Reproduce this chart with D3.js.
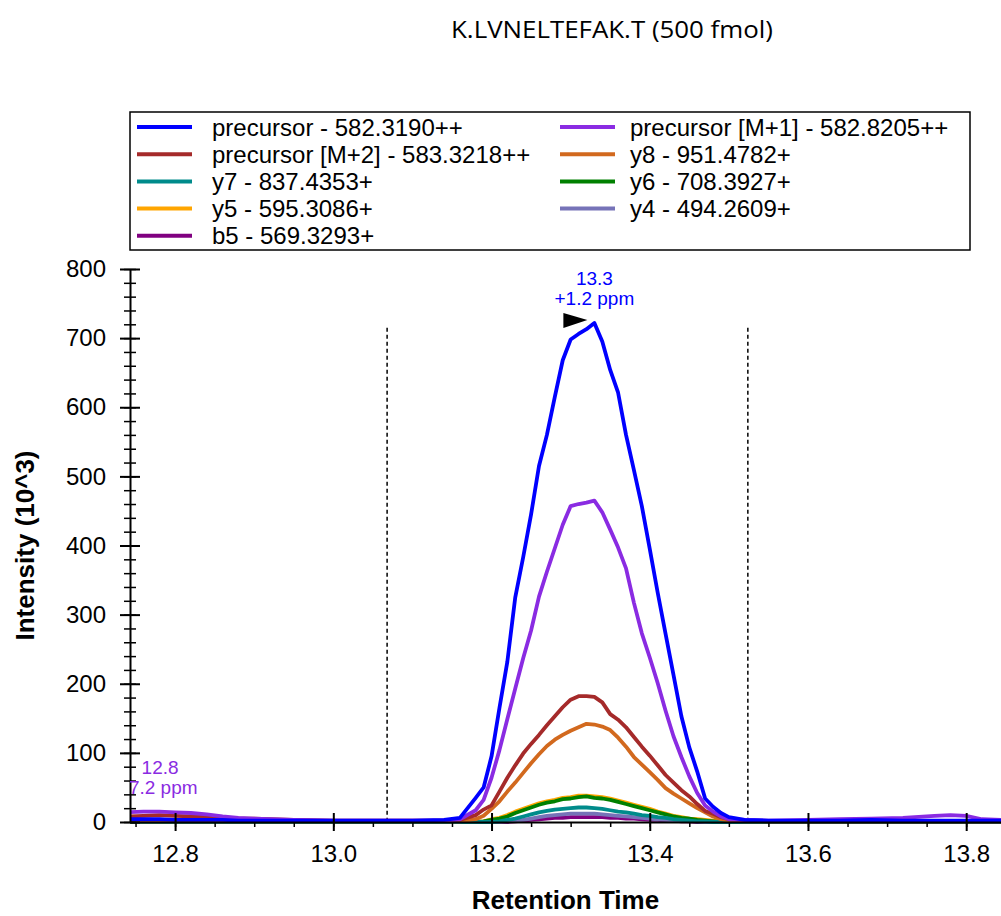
<!DOCTYPE html>
<html>
<head>
<meta charset="utf-8">
<script src="https://cdn.jsdelivr.net/npm/d3@7"></script>
<style>
  body { margin: 0; background: #fff; }
  svg { display: block; font-family: 'Liberation Sans', Arial, sans-serif; }
</style>
</head>
<body>
<svg id="chart" width="1001" height="916"></svg>
<script>
const rt = [12.74, 12.76, 12.78, 12.80, 12.82, 12.84, 12.86, 12.88, 12.90, 12.92, 12.95, 13.00, 13.05, 13.10,
  13.14, 13.16, 13.18,
  13.19, 13.20, 13.21, 13.22, 13.23, 13.24, 13.25, 13.26, 13.27, 13.28, 13.29, 13.30, 13.31, 13.32, 13.33, 13.34,
  13.35, 13.36, 13.37, 13.38, 13.39, 13.40, 13.41, 13.42, 13.43, 13.44, 13.45, 13.46, 13.47, 13.48, 13.49, 13.50,
  13.52, 13.55, 13.60, 13.64, 13.68, 13.72, 13.76, 13.78, 13.80, 13.82, 13.845]

const precursor = [4, 4, 4, 3, 3, 3, 3, 2, 2, 2, 2, 2, 2, 2,
  3, 6, 35,
  50, 95, 165, 232, 325, 383, 445, 515, 560, 615, 668, 698, 706, 713, 722, 695,
  654, 621, 560, 509, 457, 395, 332, 272, 213, 153, 108, 73, 34, 22, 13, 7,
  3, 2, 2, 2, 3, 2, 2, 2, 2, 2, 2]
const precursorM1 = [14, 15, 15, 14, 13, 11, 8, 6, 5, 4, 3, 2, 2, 2,
  2, 4, 17,
  32, 64, 104, 149, 193, 237, 277, 326, 362, 396, 430, 457, 460, 462, 465, 448,
  423, 397, 367, 317, 273, 238, 201, 161, 124, 94, 66, 42, 24, 15, 8, 4,
  3, 2, 3, 4, 5, 6, 9, 10, 9, 4, 3]
const precursorM2 = [8, 9, 10, 9, 8, 7, 6, 5, 5, 4, 3, 2, 2, 2,
  2, 3, 10,
  18, 24, 44, 64, 82, 99, 113, 126, 140, 153, 166, 177, 182, 182, 181, 173,
  156, 148, 137, 123, 109, 96, 82, 68, 57, 46, 37, 26, 16, 12, 7, 4,
  2, 1, 1, 1, 1, 1, 1, 1, 1, 1, 1]
const y8 = [1, 1, 1, 1, 1, 1, 1, 1, 1, 1, 1, 1, 1, 1,
  1, 1, 4,
  9, 19, 30, 44, 57, 71, 85, 98, 110, 119, 126, 132, 137, 142, 141, 138,
  133, 122, 109, 94, 83, 72, 61, 49, 41, 34, 27, 20, 14, 8, 4, 2,
  1, 1, 1, 1, 1, 1, 1, 1, 1, 1, 1]
const y7 = [0, 0, 0, 0, 0, 0, 0, 0, 0, 0, 0, 0, 0, 0,
  0, 0, 0,
  0, 0, 1, 3, 5, 8, 11, 14, 16, 18, 19, 20, 21, 21, 20, 19,
  17, 15, 14, 12, 10, 9, 7, 6, 4, 3, 2, 1, 1, 0, 0, 0,
  0, 0, 0, 0, 0, 0, 0, 0, 0, 0, 0]
const y6 = [0, 0, 0, 0, 0, 0, 0, 0, 0, 0, 0, 0, 0, 0,
  0, 0, 0,
  1, 3, 5, 8, 13, 17, 21, 25, 28, 30, 33, 34, 36, 37, 35, 34,
  32, 29, 26, 23, 20, 17, 14, 11, 8, 6, 5, 3, 2, 1, 0, 0,
  0, 0, 0, 0, 0, 0, 0, 0, 0, 0, 0]
const y5 = [0, 0, 0, 0, 0, 0, 0, 0, 0, 0, 0, 0, 0, 0,
  0, 0, 0,
  1, 4, 6, 10, 15, 19, 23, 27, 30, 32, 35, 36, 38, 38, 37, 36,
  34, 31, 28, 25, 22, 19, 15, 12, 9, 7, 5, 4, 3, 2, 1, 0,
  0, 0, 0, 0, 0, 0, 0, 0, 0, 0, 0]
const y4 = [0, 0, 0, 0, 0, 0, 0, 0, 0, 0, 0, 0, 0, 0,
  0, 0, 0,
  0, 0, 0, 1, 2, 3, 5, 7, 9, 10, 11, 12, 12, 12, 12, 11,
  10, 9, 8, 7, 6, 5, 4, 3, 2, 2, 1, 1, 0, 0, 0, 0,
  0, 0, 0, 0, 0, 0, 0, 0, 0, 0, 0]
const b5 = [0, 0, 0, 0, 0, 0, 0, 0, 0, 0, 0, 0, 0, 0,
  0, 0, 0,
  0, 0, 0, 0, 1, 2, 3, 4, 5, 6, 6, 7, 7, 7, 7, 7,
  6, 6, 5, 5, 4, 3, 3, 2, 2, 1, 1, 0, 0, 0, 0, 0,
  0, 0, 0, 0, 0, 0, 0, 0, 0, 0, 0]

const seriesNames = ['precursor - 582.3190++', 'precursor [M+1] - 582.8205++', 'precursor [M+2] - 583.3218++',
  'y8 - 951.4782+', 'y7 - 837.4353+', 'y6 - 708.3927+', 'y5 - 595.3086+', 'y4 - 494.2609+', 'b5 - 569.3293+']
const seriesColors = ['#0000ff', '#8a2be2', '#a52a2a', '#d2691e', '#008b8b', '#008000', '#ffa500', '#7673b8', '#800080']
const seriesValues = [precursor, precursorM1, precursorM2, y8, y7, y6, y5, y4, b5]

const xTicks = [12.8, 13.0, 13.2, 13.4, 13.6, 13.8]
const yTicks = [0, 100, 200, 300, 400, 500, 600, 700, 800]
const boundaries = [13.068, 13.524]
const peakLabels = [
  { series: 0, rt: 13.33, value: 722, lines: ['13.3', '+1.2 ppm'], arrow: true },
  { series: 1, rt: 12.781, value: 15, lines: ['12.8', '-7.2 ppm'], arrow: false }
]

function drawChart() {
  const svg = d3.select('#chart')
  const left = 130, right = 1001, top = 269, bottom = 822

  const x = d3.scaleLinear().domain([12.743, 13.844]).range([left, right])
  const y = d3.scaleLinear().domain([0, 800]).range([bottom, top])

  svg.append('text')
    .attr('x', 612)
    .attr('y', 38)
    .attr('text-anchor', 'middle')
    .style('font-family', "'Open Sans', sans-serif")
    .style('font-size', '24px')
    .attr('textLength', 322)
    .attr('lengthAdjust', 'spacingAndGlyphs')
    .text('K.LVNELTEFAK.T (500 fmol)')

  svg.append('defs')
    .append('clipPath')
    .attr('id', 'plot-clip')
    .append('rect')
    .attr('x', left)
    .attr('y', 0)
    .attr('width', right - left)
    .attr('height', bottom + 4)

  // boundaries of the integrated peak
  svg.selectAll('.bound')
    .data(boundaries)
    .join('line')
    .attr('class', 'bound')
    .attr('x1', d => x(d))
    .attr('x2', d => x(d))
    .attr('y1', y(715))
    .attr('y2', bottom)
    .attr('stroke', 'black')
    .attr('stroke-width', 1.5)
    .attr('stroke-dasharray', '4,3')

  const line = d3.line()
    .x((d, i) => x(rt[i]))
    .y(d => y(d))

  const order = d3.range(seriesValues.length).reverse()
  svg.append('g')
    .attr('clip-path', 'url(#plot-clip)')
    .selectAll('path')
    .data(order)
    .join('path')
    .attr('d', i => line(seriesValues[i]))
    .attr('fill', 'none')
    .attr('stroke', i => seriesColors[i])
    .attr('stroke-width', 3.8)
    .attr('stroke-linejoin', 'round')

  // axes
  const xMinor = d3.range(12.75, 13.85, 0.05)
  svg.append('g')
    .attr('transform', `translate(0,${bottom})`)
    .call(d3.axisBottom(x).tickValues(xMinor).tickSize(5).tickSizeOuter(0).tickFormat(''))
    .call(g => g.select('.domain').remove())
    .call(g => g.selectAll('line').attr('stroke-width', 1.5))

  svg.append('g')
    .attr('transform', `translate(0,${bottom})`)
    .call(d3.axisBottom(x).tickValues(xTicks).tickSize(9).tickSizeOuter(0).tickPadding(14).tickFormat(d3.format('.1f')))
    .call(g => g.select('.domain').attr('stroke-width', 2))
    .call(g => g.selectAll('.tick line').attr('y1', -9).attr('stroke-width', 2))
    .call(g => g.selectAll('text').style('font-size', '24px').attr('fill', 'black')
      .style('font-family', "'Liberation Sans', Arial, sans-serif"))

  const yMinor = d3.range(0, 801, 20)
  svg.append('g')
    .attr('transform', `translate(${left},0)`)
    .call(d3.axisLeft(y).tickValues(yMinor).tickSize(6).tickSizeOuter(0).tickFormat(''))
    .call(g => g.select('.domain').remove())
    .call(g => g.selectAll('line').attr('x2', 6).attr('x1', -6).attr('stroke-width', 1.5))

  svg.append('g')
    .attr('transform', `translate(${left},0)`)
    .call(d3.axisLeft(y).tickValues(yTicks).tickSize(10).tickSizeOuter(0).tickPadding(14))
    .call(g => g.select('.domain').attr('stroke-width', 2))
    .call(g => g.selectAll('.tick line').attr('x1', 10).attr('stroke-width', 2))
    .call(g => g.selectAll('text').style('font-size', '24px').attr('fill', 'black')
      .style('font-family', "'Liberation Sans', Arial, sans-serif"))

  svg.append('text')
    .attr('x', (left + right) / 2)
    .attr('y', 909)
    .attr('text-anchor', 'middle')
    .style('font-size', '26px')
    .style('font-weight', 'bold')
    .text('Retention Time')

  svg.append('text')
    .attr('transform', `translate(34,${(top + bottom) / 2}) rotate(-90)`)
    .attr('text-anchor', 'middle')
    .style('font-size', '26px')
    .style('font-weight', 'bold')
    .text('Intensity (10^3)')

  // peak annotations
  const notes = svg.append('g').attr('clip-path', 'url(#plot-clip)')
  peakLabels.forEach(p => {
    const px = x(p.rt), py = y(p.value)
    notes.selectAll(null)
      .data(p.lines)
      .join('text')
      .attr('x', px)
      .attr('y', (d, i) => py - 38 + i * 20)
      .attr('text-anchor', 'middle')
      .attr('fill', seriesColors[p.series])
      .style('font-size', '19px')
      .text(d => d)
    if (p.arrow) {
      notes.append('path')
        .attr('d', `M${px - 31},${py - 10} L${px - 31},${py + 5} L${px - 7},${py - 3} Z`)
        .attr('fill', 'black')
    }
  })

  // legend
  const legend = svg.append('g')
  legend.append('rect')
    .attr('x', 130)
    .attr('y', 112)
    .attr('width', 840)
    .attr('height', 138)
    .attr('fill', 'white')
    .attr('stroke', 'black')
    .attr('stroke-width', 1.5)

  const legendOrder = [0, 1, 2, 3, 4, 5, 6, 7, 8]
  const item = legend.selectAll('.item')
    .data(legendOrder)
    .join('g')
    .attr('class', 'item')
    .attr('transform', (d, i) => `translate(${i % 2 ? 560 : 137},${127 + Math.floor(i / 2) * 27.2})`)

  item.append('line')
    .attr('x1', 0)
    .attr('x2', 55)
    .attr('stroke', d => seriesColors[d])
    .attr('stroke-width', 4)

  item.append('text')
    .attr('x', (d, i) => i % 2 ? 70 : 75)
    .attr('dy', '0.36em')
    .style('font-size', '24px')
    .text(d => seriesNames[d])
}

document.addEventListener('DOMContentLoaded', drawChart, false)
</script>
</body>
</html>
